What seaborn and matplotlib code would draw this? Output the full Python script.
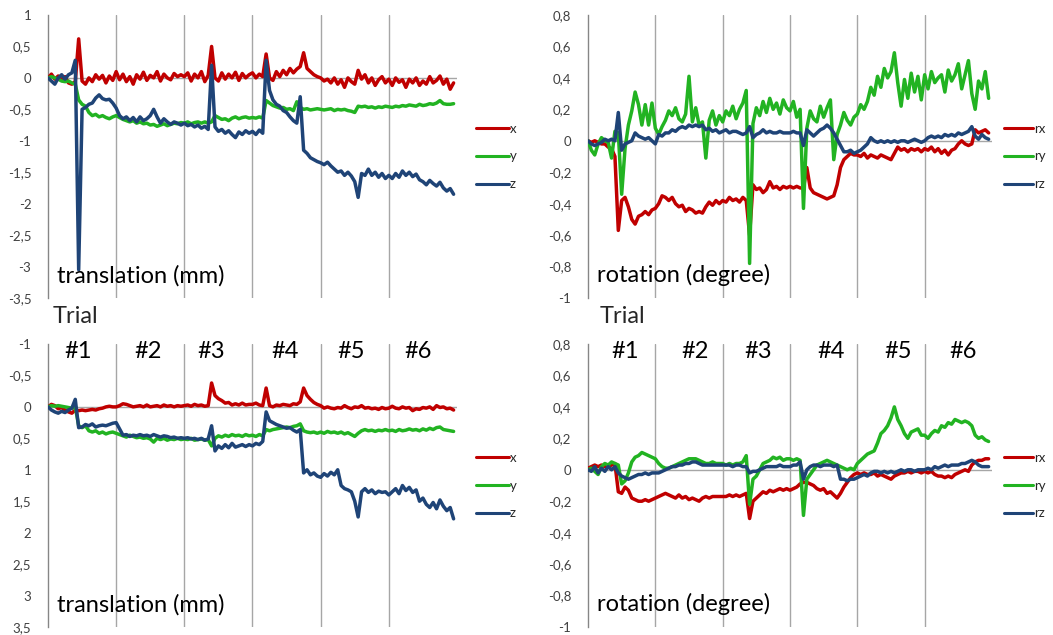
import numpy as np
import pandas as pd
import matplotlib
matplotlib.use("Agg")
import matplotlib.pyplot as plt
from matplotlib.ticker import FuncFormatter, MultipleLocator
from matplotlib.lines import Line2D
import seaborn as sns

# ---------------- data (sampled every 1/20 of a trial, 6 trials) ----------------
samples_per_trial = 20
n_samples = 120

# top-left: translation (mm)
tl_x = [0.0, 0.06, -0.02, 0.03, -0.03, 0.02, -0.08, -0.1, -0.06, 0.62, -0.05, -0.1, 0.0, -0.06, 0.05, -0.02, 0.04, -0.08, 0.03, -0.04,
        0.1, -0.03, 0.06, -0.06, 0.02, -0.1, 0.05, -0.02, 0.09, -0.04, 0.04, 0.0, 0.1, -0.05, 0.06, 0.0, -0.03, 0.07, 0.02, 0.05,
        0.02, 0.08, -0.05, 0.06, 0.0, 0.1, -0.06, 0.04, 0.5, 0.0, -0.05, 0.08, -0.02, 0.06, 0.0, 0.09, -0.04, 0.07, 0.0, 0.05,
        0.08, 0.0, 0.06, 0.02, 0.38, 0.0, -0.04, 0.1, 0.02, 0.12, 0.05, 0.15, 0.08, 0.14, 0.18, 0.4, 0.15, 0.1, 0.05, 0.02,
        0.0, -0.05, -0.02, -0.08, 0.0, -0.1, -0.03, -0.15, 0.0, -0.06, -0.1, 0.12, -0.02, 0.05, -0.08, 0.0, -0.12, -0.03, 0.02, -0.08,
        -0.02, -0.12, 0.0, -0.07, -0.03, -0.15, -0.02, -0.08, 0.0, -0.12, -0.05, -0.1, 0.02, -0.08, -0.04, 0.03, -0.1, -0.02, -0.18, -0.08]
tl_y = [0.0, 0.02, 0.0, -0.02, -0.05, -0.06, -0.05, -0.08, -0.1, -0.35, -0.42, -0.45, -0.55, -0.6, -0.58, -0.62, -0.6, -0.63, -0.65, -0.62,
        -0.6, -0.63, -0.66, -0.68, -0.7, -0.68, -0.72, -0.7, -0.73, -0.72, -0.75, -0.74, -0.77, -0.75, -0.73, -0.76, -0.74, -0.72, -0.73, -0.71,
        -0.72, -0.7, -0.73, -0.71, -0.7, -0.72, -0.7, -0.72, -0.7, -0.6, -0.63, -0.66, -0.65, -0.68, -0.64, -0.62, -0.65, -0.63, -0.62, -0.64,
        -0.63, -0.64, -0.62, -0.64, -0.36, -0.4, -0.44, -0.46, -0.48, -0.47, -0.5, -0.49, -0.52, -0.38, -0.47, -0.5, -0.49, -0.51, -0.5, -0.49,
        -0.5, -0.51, -0.5, -0.49, -0.52, -0.5, -0.51, -0.5, -0.52, -0.53, -0.55, -0.45, -0.46, -0.45, -0.47, -0.46, -0.48, -0.46, -0.47, -0.45,
        -0.46, -0.47, -0.45, -0.46, -0.44, -0.45, -0.43, -0.44, -0.45, -0.42, -0.44, -0.43, -0.41, -0.42, -0.4, -0.36, -0.41, -0.42, -0.42, -0.41]
tl_z = [0.0, -0.05, -0.1, 0.0, 0.05, -0.02, 0.05, 0.08, 0.28, -3.05, -0.5, -0.47, -0.42, -0.4, -0.32, -0.27, -0.33, -0.35, -0.34, -0.4,
        -0.48, -0.6, -0.65, -0.62, -0.68, -0.63, -0.7, -0.62, -0.68, -0.65, -0.6, -0.5, -0.62, -0.72, -0.65, -0.7, -0.74, -0.7, -0.72, -0.75,
        -0.72, -0.76, -0.74, -0.78, -0.75, -0.8, -0.77, -0.82, 0.2, -0.78, -0.85, -0.82, -0.88, -0.84, -0.9, -0.95, -0.86, -0.9, -0.84, -0.88,
        -0.85, -0.9, -0.83, -0.88, 0.28, -0.2, -0.35, -0.42, -0.45, -0.52, -0.55, -0.62, -0.68, -0.72, -0.3, -1.15, -1.2, -1.27, -1.3, -1.33,
        -1.35, -1.38, -1.34, -1.4, -1.45, -1.5, -1.48, -1.55, -1.5, -1.56, -1.65, -1.9, -1.52, -1.55, -1.45, -1.55, -1.5, -1.58, -1.52, -1.6,
        -1.55, -1.6, -1.52, -1.58, -1.48, -1.55, -1.5, -1.57, -1.53, -1.62, -1.65, -1.7, -1.63, -1.68, -1.72, -1.66, -1.75, -1.8, -1.76, -1.85]

# bottom-left: translation (mm), reversed axis
bl_x = [0.0, -0.04, -0.02, 0.03, 0.01, 0.05, 0.08, 0.1, 0.05, 0.06, 0.05, 0.06, 0.05, 0.04, 0.05, 0.03, 0.02, 0.0, -0.01, 0.0,
        0.0, -0.02, -0.05, -0.04, -0.02, 0.0, -0.01, -0.02, 0.0, -0.03, 0.0, -0.01, -0.02, 0.0, -0.03, -0.01, -0.02, 0.0, -0.02, -0.01,
        -0.02, -0.03, -0.01, -0.04, -0.02, -0.03, -0.01, -0.02, -0.38, -0.18, -0.13, -0.1, -0.06, -0.07, -0.03, -0.05, -0.03, -0.06, -0.03, -0.04,
        -0.04, -0.06, -0.03, -0.02, -0.3, -0.02, 0.0, -0.03, -0.02, -0.04, -0.03, -0.02, -0.05, -0.04, -0.08, -0.3, -0.18, -0.12, -0.07, -0.04,
        -0.02, 0.02, 0.0, 0.02, 0.03, 0.01, 0.02, -0.02, 0.01, 0.03, 0.0, 0.01, -0.02, 0.02, 0.01, 0.03, 0.02, 0.04, 0.01, 0.03,
        0.02, -0.01, 0.02, 0.03, 0.0, 0.02, 0.01, 0.06, 0.03, 0.04, 0.01, 0.02, 0.0, 0.04, -0.02, 0.01, 0.0, 0.03, 0.02, 0.05]
bl_y = [0.0, -0.02, -0.01, -0.02, -0.01, 0.0, 0.01, 0.02, 0.0, 0.3, 0.33, 0.3, 0.38, 0.4, 0.38, 0.42, 0.4, 0.43, 0.41, 0.4,
        0.42, 0.44, 0.46, 0.48, 0.45, 0.47, 0.49, 0.48, 0.5, 0.49, 0.51, 0.56, 0.5, 0.52, 0.5, 0.53, 0.51, 0.52, 0.5, 0.52,
        0.51, 0.52, 0.5, 0.53, 0.52, 0.51, 0.53, 0.52, 0.62, 0.5, 0.46, 0.48, 0.45, 0.47, 0.44, 0.46, 0.45, 0.47, 0.44, 0.46,
        0.45, 0.47, 0.44, 0.46, 0.36, 0.38, 0.36, 0.35, 0.34, 0.33, 0.32, 0.33, 0.31, 0.3, 0.27, 0.38, 0.4, 0.41, 0.4, 0.42,
        0.4, 0.42, 0.39, 0.41, 0.4, 0.42, 0.4, 0.43, 0.41, 0.44, 0.47, 0.42, 0.38, 0.36, 0.38, 0.37, 0.39, 0.37, 0.38, 0.36,
        0.38, 0.37, 0.39, 0.36, 0.38, 0.37, 0.35, 0.37, 0.36, 0.38, 0.35, 0.37, 0.34, 0.36, 0.33, 0.32, 0.36, 0.37, 0.38, 0.39]
bl_z = [0.0, 0.05, 0.08, 0.1, 0.07, 0.09, 0.05, 0.02, -0.12, 0.33, 0.32, 0.28, 0.3, 0.27, 0.32, 0.3, 0.29, 0.3, 0.28, 0.26,
        0.25, 0.35, 0.45, 0.44, 0.47, 0.45, 0.46, 0.44, 0.46, 0.45, 0.47, 0.44, 0.46, 0.48, 0.46, 0.47, 0.49, 0.48, 0.5, 0.49,
        0.5, 0.49, 0.51, 0.5, 0.52, 0.5, 0.53, 0.51, 0.3, 0.7, 0.62, 0.66, 0.6, 0.65, 0.58, 0.64, 0.62, 0.6, 0.63, 0.6,
        0.62, 0.58, 0.6, 0.55, 0.08, 0.22, 0.25, 0.28, 0.3, 0.32, 0.34, 0.33, 0.37, 0.4, 0.36, 1.05, 1.0, 1.08, 1.05, 1.1,
        1.12, 1.06, 1.1, 1.04, 1.08, 1.0, 1.25, 1.3, 1.32, 1.35, 1.5, 1.75, 1.35, 1.3, 1.36, 1.32, 1.38, 1.34, 1.36, 1.35,
        1.4, 1.35, 1.3, 1.38, 1.25, 1.33, 1.28, 1.36, 1.32, 1.5, 1.45, 1.55, 1.6, 1.52, 1.62, 1.48, 1.58, 1.65, 1.6, 1.78]

# top-right: rotation (degree)
tr_rx = [0.0, -0.01, 0.0, -0.01, -0.02, -0.02, -0.04, -0.05, -0.1, -0.57, -0.38, -0.36, -0.42, -0.5, -0.53, -0.48, -0.47, -0.45, -0.47, -0.44,
         -0.43, -0.4, -0.35, -0.36, -0.38, -0.36, -0.4, -0.42, -0.41, -0.45, -0.43, -0.44, -0.46, -0.45, -0.46, -0.42, -0.39, -0.41, -0.38, -0.4,
         -0.38, -0.39, -0.36, -0.38, -0.37, -0.39, -0.36, -0.38, -0.6, -0.28, -0.31, -0.3, -0.33, -0.31, -0.26, -0.3, -0.29, -0.31, -0.29, -0.3,
         -0.29, -0.3, -0.29, -0.3, -0.3, -0.17, -0.3, -0.33, -0.34, -0.35, -0.36, -0.37, -0.36, -0.35, -0.28, -0.17, -0.12, -0.1, -0.08, -0.09,
         -0.09, -0.1, -0.08, -0.11, -0.09, -0.1, -0.11, -0.09, -0.1, -0.11, -0.12, -0.08, -0.04, -0.06, -0.05, -0.07, -0.05, -0.06, -0.05, -0.07,
         -0.05, -0.06, -0.04, -0.07, -0.05, -0.08, -0.06, -0.09, -0.06, -0.05, -0.02, 0.0, -0.02, -0.03, -0.02, 0.07, 0.05, 0.06, 0.07, 0.05]
tr_ry = [0.0, -0.06, -0.09, -0.02, 0.02, 0.0, -0.01, -0.11, 0.06, 0.05, -0.34, -0.05, 0.1, 0.19, 0.31, 0.23, 0.1, 0.23, 0.1, 0.24,
         0.08, 0.04, 0.09, 0.13, 0.19, 0.16, 0.21, 0.14, 0.12, 0.17, 0.41, 0.12, 0.21, 0.1, 0.12, -0.11, 0.13, 0.19, 0.1, 0.16,
         0.12, 0.19, 0.16, 0.22, 0.14, 0.2, 0.24, 0.32, -0.78, 0.11, 0.21, 0.16, 0.25, 0.18, 0.27, 0.2, 0.24, 0.17, 0.26, 0.21,
         0.19, 0.25, 0.15, 0.2, -0.43, 0.08, 0.19, 0.14, 0.12, 0.22, 0.15, 0.21, 0.26, -0.12, 0.04, 0.1, 0.18, 0.13, 0.1, 0.15,
         0.17, 0.23, 0.2, 0.25, 0.34, 0.29, 0.41, 0.34, 0.46, 0.4, 0.44, 0.56, 0.37, 0.22, 0.39, 0.27, 0.43, 0.31, 0.41, 0.26,
         0.42, 0.33, 0.44, 0.37, 0.4, 0.42, 0.31, 0.45, 0.38, 0.42, 0.49, 0.33, 0.42, 0.51, 0.3, 0.2, 0.38, 0.33, 0.44, 0.27]
tr_rz = [0.0, -0.02, -0.03, -0.02, -0.01, 0.01, 0.0, 0.01, 0.0, 0.18, -0.06, -0.02, -0.01, 0.0, 0.05, 0.03, 0.02, 0.01, 0.02, 0.0,
         -0.02, 0.04, 0.03, 0.05, 0.05, 0.07, 0.06, 0.08, 0.09, 0.08, 0.1, 0.09, 0.1, 0.09, 0.1, 0.07, 0.08, 0.06, 0.07, 0.05,
         0.06, 0.07, 0.05, 0.06, 0.06, 0.05, 0.04, 0.05, 0.09, 0.02, 0.04, 0.05, 0.07, 0.05, 0.06, 0.05, 0.05, 0.06, 0.05, 0.05,
         0.05, 0.06, 0.05, 0.05, -0.03, 0.07, 0.05, 0.03, 0.05, 0.07, 0.08, 0.1, 0.08, 0.05, 0.01, -0.03, -0.07, -0.07, -0.06, -0.08,
         -0.07, -0.06, -0.04, -0.02, 0.02, 0.0, -0.01, 0.0, -0.01, 0.0, -0.01, 0.0, -0.01, 0.0, 0.0, -0.01, 0.0, 0.01, 0.0, -0.01,
         0.0, 0.02, 0.03, 0.02, 0.03, 0.02, 0.04, 0.03, 0.04, 0.03, 0.05, 0.04, 0.05, 0.06, 0.09, 0.03, 0.01, 0.04, 0.02, 0.01]

# bottom-right: rotation (degree)
br_rx = [0.01, 0.02, 0.03, 0.02, 0.03, 0.02, 0.02, 0.03, 0.04, -0.14, -0.15, -0.11, -0.13, -0.18, -0.19, -0.2, -0.2, -0.19, -0.2, -0.19,
         -0.18, -0.17, -0.16, -0.15, -0.16, -0.17, -0.18, -0.16, -0.18, -0.17, -0.19, -0.18, -0.19, -0.2, -0.18, -0.17, -0.18, -0.17, -0.17, -0.17,
         -0.17, -0.17, -0.16, -0.17, -0.16, -0.17, -0.16, -0.15, -0.31, -0.2, -0.18, -0.16, -0.14, -0.15, -0.13, -0.14, -0.13, -0.12, -0.13, -0.12,
         -0.13, -0.12, -0.11, -0.09, -0.08, -0.08, -0.09, -0.1, -0.12, -0.13, -0.12, -0.15, -0.14, -0.16, -0.18, -0.15, -0.11, -0.08, -0.05, -0.03,
         -0.02, -0.03, -0.02, -0.03, -0.03, -0.02, -0.04, -0.03, -0.04, -0.05, -0.06, -0.04, -0.03, -0.02, -0.02, -0.01, -0.02, -0.01, -0.01, -0.02,
         -0.01, -0.02, -0.01, -0.03, -0.04, -0.04, -0.05, -0.04, -0.05, -0.03, -0.02, -0.01, 0.0, -0.01, 0.03, 0.05, 0.06, 0.06, 0.07, 0.07]
br_ry = [0.0, 0.01, -0.01, -0.03, 0.02, 0.04, 0.03, 0.05, 0.04, 0.03, -0.09, -0.07, -0.02, 0.05, 0.08, 0.09, 0.11, 0.1, 0.09, 0.08,
         0.07, 0.04, 0.02, 0.01, 0.01, 0.02, 0.03, 0.04, 0.05, 0.06, 0.07, 0.07, 0.07, 0.06, 0.05, 0.04, 0.04, 0.05, 0.04, 0.04,
         0.04, 0.03, 0.04, 0.03, 0.04, 0.04, 0.05, 0.09, -0.22, -0.06, -0.04, 0.0, 0.04, 0.05, 0.06, 0.08, 0.07, 0.08, 0.06, 0.07,
         0.07, 0.06, 0.07, 0.06, -0.29, -0.06, -0.03, 0.0, 0.03, 0.04, 0.05, 0.06, 0.05, 0.04, 0.03, 0.02, 0.01, 0.0, 0.01, 0.0,
         0.04, 0.06, 0.08, 0.1, 0.11, 0.12, 0.17, 0.23, 0.25, 0.28, 0.33, 0.4, 0.32, 0.28, 0.23, 0.2, 0.24, 0.25, 0.26, 0.22,
         0.22, 0.2, 0.23, 0.25, 0.24, 0.28, 0.27, 0.3, 0.29, 0.32, 0.31, 0.3, 0.31, 0.3, 0.28, 0.22, 0.2, 0.21, 0.19, 0.18]
br_rz = [0.0, -0.01, 0.02, -0.02, 0.01, -0.01, 0.02, 0.0, 0.02, -0.02, -0.04, -0.05, -0.06, -0.05, -0.04, -0.03, -0.03, -0.02, -0.03, -0.02,
         -0.02, -0.02, -0.01, 0.0, 0.01, 0.02, 0.02, 0.03, 0.03, 0.04, 0.04, 0.05, 0.05, 0.04, 0.03, 0.03, 0.03, 0.03, 0.03, 0.03,
         0.03, 0.03, 0.03, 0.02, 0.03, 0.03, 0.02, 0.02, -0.02, -0.01, -0.01, 0.0, 0.01, 0.02, 0.02, 0.02, 0.02, 0.03, 0.02, 0.02,
         0.02, 0.03, 0.03, 0.05, -0.06, 0.0, 0.02, 0.03, 0.03, 0.02, 0.03, 0.03, 0.03, 0.02, 0.03, -0.06, -0.06, -0.07, -0.06, -0.06,
         -0.05, -0.04, -0.03, -0.04, -0.02, -0.01, -0.01, -0.02, -0.01, -0.02, -0.01, -0.02, -0.01, 0.0, -0.01, 0.0, 0.0, -0.01, 0.0, 0.0,
         0.0, 0.01, 0.0, 0.02, 0.01, 0.02, 0.03, 0.02, 0.03, 0.03, 0.03, 0.04, 0.04, 0.05, 0.06, 0.05, 0.03, 0.02, 0.02, 0.02]

trans_labels = ["x", "y", "z"]
rot_labels = ["rx", "ry", "rz"]
trial_labels = ["#1", "#2", "#3", "#4", "#5", "#6"]
trial_label_pos_left = [0.44, 1.47, 2.39, 3.48, 4.44, 5.43]
trial_label_pos_right = [0.55, 1.59, 2.53, 3.61, 4.61, 5.57]

colors = ["#C00000", "#22B322", "#1F4477"]

# ---------------- figure ----------------
sns.set_style("white")
plt.rcParams["font.family"] = ["Lato", "DejaVu Sans"]

W, H = 1053, 635
fig = plt.figure(figsize=(W / 100, H / 100), dpi=100)


def px_axes(x0, y0, x1, y1):
    return fig.add_axes([x0 / W, 1 - y1 / H, (x1 - x0) / W, (y1 - y0) / H])


t = np.arange(n_samples) / samples_per_trial


def fmt(v, pos):
    v = round(v, 3) + 0.0
    return f"{v:g}".replace(".", ",")


def draw_panel(ax, series, labels, ylim, ystep, title, trial_pos=None,
               leg_x=1.046, leg_len=2.5):
    df = pd.DataFrame({
        "t": np.tile(t, len(series)),
        "value": np.concatenate([np.asarray(s, float) for s in series]),
        "series": np.repeat(labels, n_samples),
    })
    sns.lineplot(data=df, x="t", y="value", hue="series", hue_order=labels,
                 palette=colors, estimator=None, sort=False, linewidth=2.5,
                 legend=False, ax=ax, zorder=3)
    handles = [Line2D([0], [0], color=c, lw=2.2) for c in colors]
    ax.axhline(0, color="#a6a6a6", lw=1.0, zorder=1)
    ax.set_xlim(0, 6)
    ax.set_ylim(*ylim)
    ax.yaxis.set_major_locator(MultipleLocator(ystep))
    ax.yaxis.set_major_formatter(FuncFormatter(fmt))
    ax.set_xticks([1, 2, 3, 4, 5])
    ax.set_xticklabels([])
    ax.tick_params(axis="x", length=0)
    ax.tick_params(axis="y", length=5, width=1, color="#868686",
                   labelcolor="#404040", labelsize=9.5, pad=7, direction="out")
    ax.grid(axis="x", color="#a6a6a6", lw=1.0)
    ax.grid(axis="y", visible=False)
    for s in ["top", "right", "bottom"]:
        ax.spines[s].set_visible(False)
    ax.spines["left"].set_color("#868686")
    ax.spines["left"].set_linewidth(1.0)
    ax.set_xlabel("")
    ax.set_ylabel("")
    ax.patch.set_alpha(0)
    ax.legend(handles, labels, loc="center left", bbox_to_anchor=(leg_x, 0.5),
              frameon=False, fontsize=9.5, handlelength=leg_len, handletextpad=0.05,
              labelspacing=1.2, borderpad=0, borderaxespad=0)
    ax.text(0.022, 0.055, title, transform=ax.transAxes, fontsize=17,
            va="baseline", ha="left", color="black")
    if trial_pos is not None:
        tr = matplotlib.transforms.blended_transform_factory(ax.transData, ax.transAxes)
        for xp, lab in zip(trial_pos, trial_labels):
            ax.text(xp, 0.952, lab, transform=tr, fontsize=17, ha="center",
                    va="baseline", color="black")


ax_tl = px_axes(48, 15, 457, 298)
ax_bl = px_axes(48, 344, 457, 627)
ax_tr = px_axes(588, 15, 992, 298)
ax_br = px_axes(588, 344, 992, 627)

draw_panel(ax_tl, [tl_x, tl_y, tl_z], trans_labels, (-3.5, 1), 0.5, "translation (mm)")
draw_panel(ax_bl, [bl_x, bl_y, bl_z], trans_labels, (3.5, -1), 0.5, "translation (mm)",
           trial_label_pos_left)
draw_panel(ax_tr, [tr_rx, tr_ry, tr_rz], rot_labels, (-1, 0.8), 0.2, "rotation (degree)",
           leg_x=1.03, leg_len=2.2)
draw_panel(ax_br, [br_rx, br_ry, br_rz], rot_labels, (-1, 0.8), 0.2, "rotation (degree)",
           trial_label_pos_right, leg_x=1.03, leg_len=2.2)

fig.text(53 / W, 1 - 323 / H, "Trial", fontsize=17, va="baseline", ha="left")
fig.text(600 / W, 1 - 323 / H, "Trial", fontsize=17, va="baseline", ha="left")

fig.savefig("out.png", dpi=100)
